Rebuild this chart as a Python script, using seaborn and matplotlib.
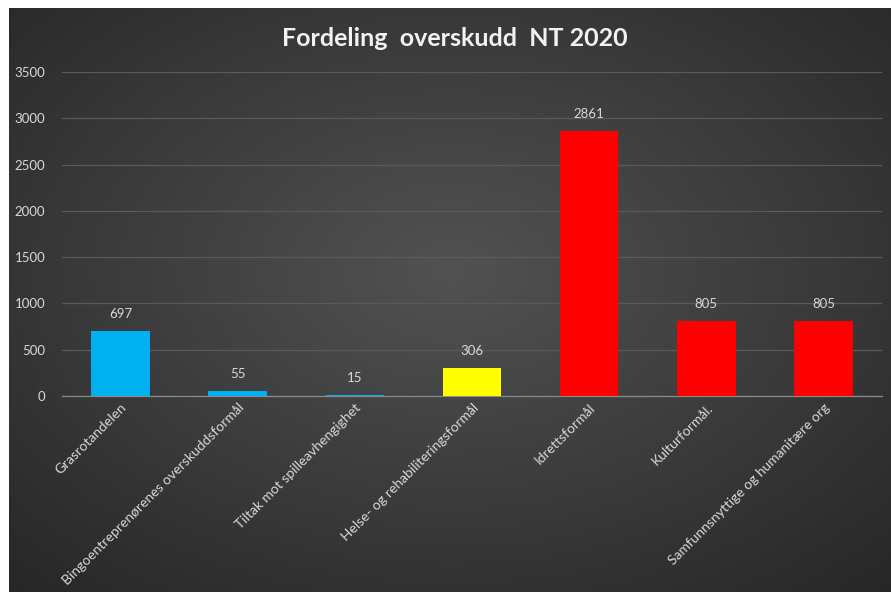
import numpy as np
import pandas as pd
import matplotlib
matplotlib.use("Agg")
import matplotlib.pyplot as plt
import seaborn as sns

categories = ["Grasrotandelen", "Bingoentreprenørenes overskuddsformål", "Tiltak mot spilleavhengighet",
              "Helse- og rehabiliteringsformål", "Idrettsformål", "Kulturformål.",
              "Samfunnsnyttige og humanitære org"]
values = [697, 55, 15, 306, 2861, 805, 805]
colors = ["#00B0F0", "#00B0F0", "#00B0F0", "#FFFF00", "#FF0000", "#FF0000", "#FF0000"]
yticks = [0, 500, 1000, 1500, 2000, 2500, 3000, 3500]
title = "Fordeling  overskudd  NT 2020"

sns.set_theme(style="white")
plt.rcParams['font.family'] = ['Lato', 'DejaVu Sans']

W, H = 891, 592
fig = plt.figure(figsize=(W/100, H/100), dpi=100, facecolor="white")

# background gradient panel
bgax = fig.add_axes([9/W, 0, 1 - 9/W, 1 - 8/H])
ny, nx = 300, 450
yy, xx = np.mgrid[0:ny, 0:nx]
cx, cy = nx*0.5, ny*0.45
d = np.sqrt(((xx-cx)/(nx*0.75))**2 + ((yy-cy)/(ny*0.75))**2)
d = np.clip(d, 0, 1)
c0, c1 = 0x52/255, 0x26/255
img = c0 + (c1-c0)*d
bgax.imshow(np.dstack([img, img, img]), aspect="auto", extent=[0, 1, 0, 1])
bgax.set_axis_off()

left, right, bottom, top = 62, 882, 396, 72
ax = fig.add_axes([left/W, 1 - bottom/H, (right-left)/W, (bottom-top)/H])
ax.patch.set_alpha(0)

df = pd.DataFrame({"cat": categories, "val": values})
sns.barplot(data=df, x="cat", y="val", hue="cat", palette=colors, legend=False,
            width=0.5, ax=ax, saturation=1, zorder=3, linewidth=0, edgecolor="none")
for p in ax.patches:
    p.set_clip_on(False)

ax.set_ylim(0, 3500)
ax.set_xlim(-0.5, len(categories)-0.5)
ax.set_yticks(yticks)
ax.set_yticklabels([str(t) for t in yticks], color="#D9D9D9", fontsize=9.5)
ax.yaxis.grid(True, color="#5a5a5a", linewidth=0.9, zorder=0)
ax.set_axisbelow(True)
ax.tick_params(axis="y", length=0, pad=12)
ax.tick_params(axis="x", length=0, pad=4)
ax.set_xticks(range(len(categories)))
ax.set_xticklabels(categories, rotation=45, ha="right", rotation_mode="anchor",
                   color="#D9D9D9", fontsize=10)
for s in ["top", "right", "left"]:
    ax.spines[s].set_visible(False)
ax.spines["bottom"].set_color("#8a8a8a")
ax.spines["bottom"].set_linewidth(0.9)
ax.spines["bottom"].set_zorder(1)
ax.set_xlabel("")
ax.set_ylabel("")

for i, v in enumerate(values):
    ax.annotate(str(v), (i, v), xytext=(0, 8), textcoords="offset points",
                ha="center", va="bottom", color="#D9D9D9", fontsize=9.5)

fig.text(455/W, 1 - 38/H, title, ha="center", va="center", color="#F2F2F2",
         fontsize=18, fontweight="bold")

fig.savefig("out.png", dpi=100, facecolor="white")
